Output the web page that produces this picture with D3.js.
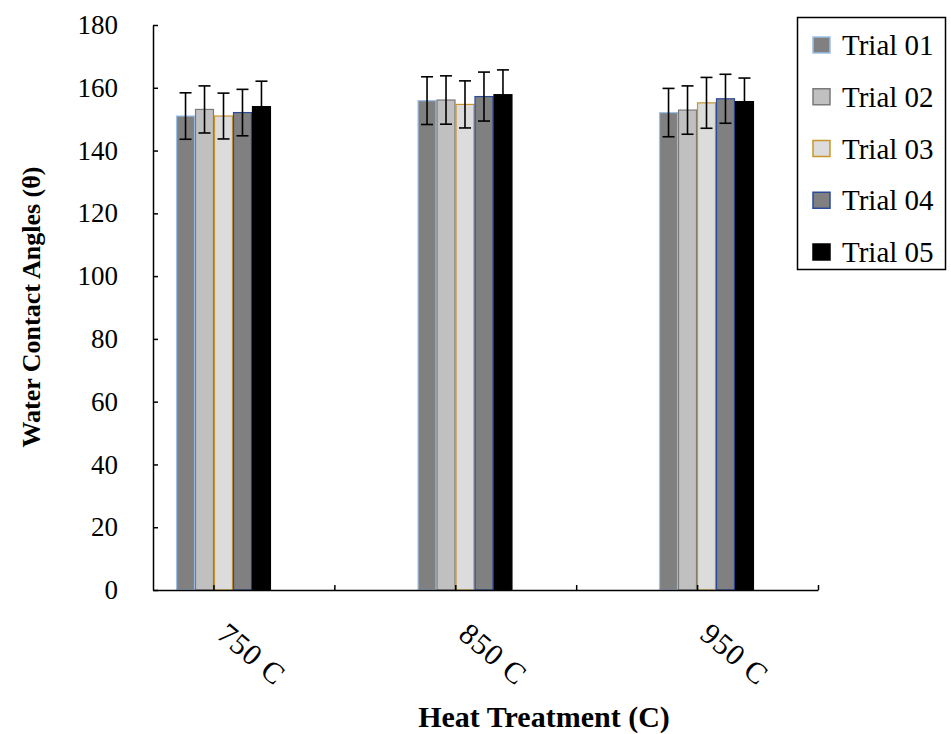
<!DOCTYPE html>
<html>
<head>
<meta charset="utf-8">
<script src="https://cdn.jsdelivr.net/npm/d3@7"></script>
<style>
  html, body { margin: 0; padding: 0; background: #fff; }
  svg { display: block; }
</style>
</head>
<body>
<svg id="chart" width="951" height="734"></svg>
<script>
// ---- data ----
const categories = ["750 C", "850 C", "950 C"];
const trials = ["Trial 01", "Trial 02", "Trial 03", "Trial 04", "Trial 05"];
const trial01 = [151.0, 155.9, 152.1];
const trial02 = [153.1, 156.1, 152.9];
const trial03 = [151.0, 154.7, 155.2];
const trial04 = [152.1, 157.2, 156.5];
const trial05 = [154.0, 157.8, 155.6];
const err01 = [7.4, 7.6, 7.7];
const err02 = [7.5, 7.7, 7.7];
const err03 = [7.3, 7.5, 8.1];
const err04 = [7.4, 7.8, 7.8];
const err05 = [8.1, 7.9, 7.5];
const yTicks = [0, 20, 40, 60, 80, 100, 120, 140, 160, 180];

const seriesValues = [trial01, trial02, trial03, trial04, trial05];
const seriesErrors = [err01, err02, err03, err04, err05];
const fills = ["#808080", "#c0c0c0", "#dcdcdc", "#808080", "#000000"];
const strokes = ["#9cc0e8", "#7a7a7a", "#c8962a", "#2a4a9a", "#000000"];

const FONT = "'Liberation Serif', Tinos, 'Times New Roman', 'DejaVu Serif', serif";

const svg = d3.select("#chart");

const plotLeft = 153, plotRight = 818, plotTop = 25, plotBottom = 590;

const y = d3.scaleLinear().domain([0, 180]).range([plotBottom, plotTop]);

const x0 = d3.scaleBand().domain(categories)
  .range([102.75, 827.25]).paddingInner(0.607).paddingOuter(0.3035);
const x1 = d3.scaleBand().domain(trials).range([0, x0.bandwidth()]);

// tick scale for the category axis (Excel-like tick positions)
const xTickScale = d3.scaleLinear().domain([0, 5.5]).range([plotLeft, plotRight]);
const xTickVals = [0.5, 1.5, 2.5, 3.5, 4.5, 5.5];

// bars
const data = [];
categories.forEach((c, ci) => {
  trials.forEach((t, ti) => {
    data.push({ c, t, ti, v: seriesValues[ti][ci], e: seriesErrors[ti][ci] });
  });
});

const gBars = svg.append("g");
gBars.selectAll("rect").data(data).enter().append("rect")
  .attr("x", d => x0(d.c) + x1(d.t) + 0.5)
  .attr("y", d => y(d.v))
  .attr("width", x1.bandwidth() - 1)
  .attr("height", d => y(0) - y(d.v))
  .attr("fill", d => fills[d.ti])
  .attr("stroke", d => strokes[d.ti])
  .attr("stroke-width", 1.2);

// error bars
const gErr = svg.append("g").attr("stroke", "#000").attr("stroke-width", 1.6);
const capW = 6;
data.forEach(d => {
  const cx = x0(d.c) + x1(d.t) + x1.bandwidth() / 2;
  gErr.append("line").attr("x1", cx).attr("x2", cx)
    .attr("y1", y(d.v + d.e)).attr("y2", y(d.v - d.e));
  gErr.append("line").attr("x1", cx - capW).attr("x2", cx + capW)
    .attr("y1", y(d.v + d.e)).attr("y2", y(d.v + d.e));
  gErr.append("line").attr("x1", cx - capW).attr("x2", cx + capW)
    .attr("y1", y(d.v - d.e)).attr("y2", y(d.v - d.e));
});

// y axis
const yAxis = d3.axisLeft(y).tickValues(yTicks).tickSize(-5).tickPadding(35).tickSizeOuter(0);
const gy = svg.append("g").attr("transform", `translate(${plotLeft},0)`).call(yAxis)
  .attr("font-family", null).attr("font-size", null);
gy.select(".domain").attr("stroke", "#000").attr("stroke-width", 1.5);
gy.selectAll(".tick line").attr("stroke", "#000").attr("stroke-width", 1.5);
gy.selectAll(".tick text").style("font-family", FONT).style("font-size", "27px").attr("fill", "#000");

// x axis
const xAxis = d3.axisBottom(xTickScale).tickValues(xTickVals).tickSize(-5).tickFormat("").tickSizeOuter(0);
const gx = svg.append("g").attr("transform", `translate(0,${plotBottom})`).call(xAxis);
gx.select(".domain").attr("stroke", "#000").attr("stroke-width", 1.5);
gx.selectAll(".tick line").attr("stroke", "#000").attr("stroke-width", 1.5);

// category labels
svg.append("g").selectAll("text").data(categories).enter().append("text")
  .attr("transform", d => `translate(${x0(d) + x0.bandwidth() / 2 - 8},${plotBottom + 47}) rotate(40)`)
  .attr("text-anchor", "start")
  .style("font-family", FONT)
  .style("font-size", "30px")
  .style("letter-spacing", "1px")
  .text(d => d);

// axis titles
svg.append("text")
  .attr("x", 544).attr("y", 727)
  .attr("text-anchor", "middle")
  .style("font-family", FONT)
  .style("font-size", "30px").style("font-weight", "bold")
  .text("Heat Treatment (C)");

svg.append("text")
  .attr("transform", `translate(40,307) rotate(-90)`)
  .attr("text-anchor", "middle")
  .style("font-family", FONT)
  .style("font-size", "26px").style("font-weight", "bold")
  .text("Water Contact Angles (θ)");

// legend
const legend = svg.append("g");
legend.append("rect").attr("x", 797.5).attr("y", 17.5).attr("width", 148).attr("height", 252)
  .attr("fill", "#fff").attr("stroke", "#000").attr("stroke-width", 1.5);
const ly = d3.scalePoint().domain(trials).range([45, 252]);
trials.forEach((t, i) => {
  legend.append("rect").attr("x", 813).attr("y", ly(t) - 8).attr("width", 17).attr("height", 16)
    .attr("fill", fills[i]).attr("stroke", strokes[i]).attr("stroke-width", 1.5);
  legend.append("text").attr("x", 842).attr("y", ly(t) + 10)
    .style("font-family", FONT)
    .style("font-size", "29px").text(t);
});
</script>
</body>
</html>
